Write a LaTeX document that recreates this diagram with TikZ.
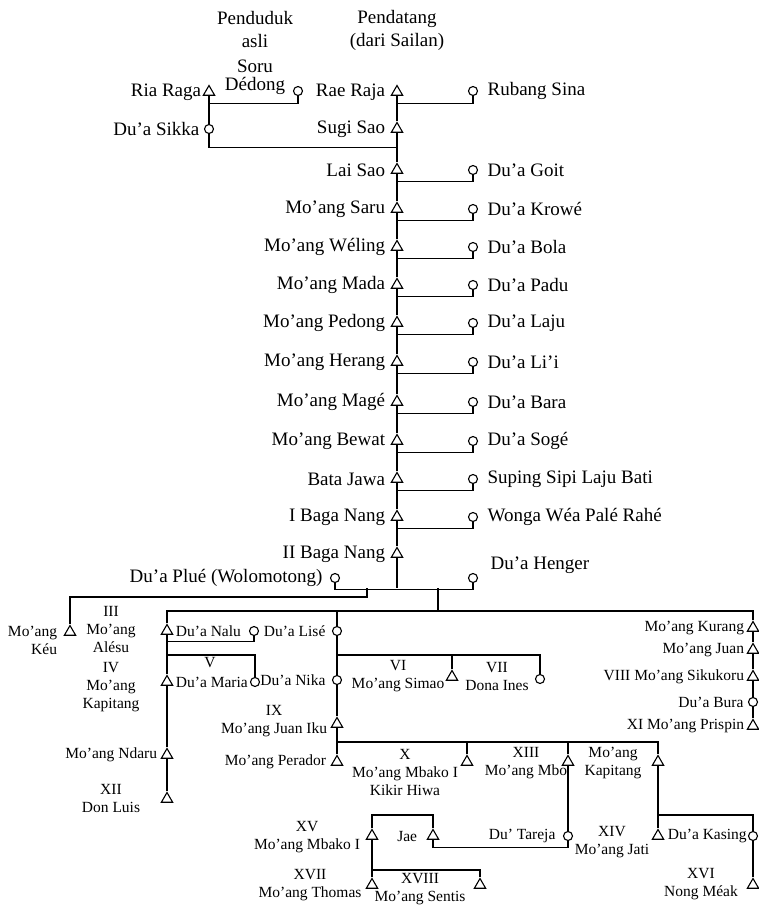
\documentclass[tikz,border=0pt]{standalone}
\usepackage{fontspec}
\setmainfont{Liberation Serif}
\usetikzlibrary{positioning, shapes.geometric}

\begin{document}
\begin{tikzpicture}[
    x=1pt, y=-1pt, line width=1.1pt,
    font=\fontsize{19}{23}\selectfont,
    male/.style={draw, regular polygon, regular polygon sides=3,
        minimum size=13pt, inner sep=0pt, fill=white},
    female/.style={draw, circle, minimum size=9pt, inner sep=0pt, fill=white},
    lbl/.style={inner sep=0pt, align=center},
    small/.style={font=\fontsize{15.5}{18}\selectfont},
]
\useasboundingbox (0,0) rectangle (759,910);

% kepala kolom
\node[lbl] (native) at (255,30) {Penduduk\\asli};
\node[lbl] (settler) at (397,30) {Pendatang\\(dari Sailan)};

% penduduk asli
\node[male] (riaraga) at (209,92) {};
\node[lbl, left=3pt of riaraga] (riaraga-l) {Ria Raga};
\node[female] (soru) at (298,91) {};
\node[lbl] (soru-l) at (255,77) {Soru\\[-5pt]Dédong};
\node[female] (sikka) at (209,129) {};
\node[lbl, left=4pt of sikka] (sikka-l) {Du'a Sikka};

% garis laki-laki pendatang
\node[male] (raeraja) at (397,92) {};
\node[lbl, left=7pt of raeraja] (raeraja-l) {Rae Raja};
\node[female] (rubang) at (473,91) {};
\node[lbl, right=9pt of rubang] (rubang-l) {Rubang Sina};
\node[male] (sugisao) at (397,129) {};
\node[lbl, left=7pt of sugisao] (sugisao-l) {Sugi Sao};
\node[male] (laisao) at (397,170) {};
\node[lbl, left=7pt of laisao] (laisao-l) {Lai Sao};
\node[female] (goit) at (473,170) {};
\node[lbl, right=9pt of goit] (goit-l) {Du'a Goit};
\node[male] (saru) at (397,209) {};
\node[lbl, left=7pt of saru] (saru-l) {Mo'ang Saru};
\node[female] (krowe) at (473,209) {};
\node[lbl, right=9pt of krowe] (krowe-l) {Du'a Krowé};
\node[male] (weling) at (397,247) {};
\node[lbl, left=7pt of weling] (weling-l) {Mo'ang Wéling};
\node[female] (bola) at (473,247) {};
\node[lbl, right=9pt of bola] (bola-l) {Du'a Bola};
\node[male] (mada) at (397,285) {};
\node[lbl, left=7pt of mada] (mada-l) {Mo'ang Mada};
\node[female] (padu) at (473,285) {};
\node[lbl, right=9pt of padu] (padu-l) {Du'a Padu};
\node[male] (pedong) at (397,323) {};
\node[lbl, left=7pt of pedong] (pedong-l) {Mo'ang Pedong};
\node[female] (laju) at (473,323) {};
\node[lbl, right=9pt of laju] (laju-l) {Du'a Laju};
\node[male] (herang) at (397,362) {};
\node[lbl, left=7pt of herang] (herang-l) {Mo'ang Herang};
\node[female] (lii) at (473,362) {};
\node[lbl, right=9pt of lii] (lii-l) {Du'a Li'i};
\node[male] (mage) at (397,402) {};
\node[lbl, left=7pt of mage] (mage-l) {Mo'ang Magé};
\node[female] (bara) at (473,402) {};
\node[lbl, right=9pt of bara] (bara-l) {Du'a Bara};
\node[male] (bewat) at (397,441) {};
\node[lbl, left=7pt of bewat] (bewat-l) {Mo'ang Bewat};
\node[female] (soge) at (473,441) {};
\node[lbl, right=9pt of soge] (soge-l) {Du'a Sogé};
\node[male] (batajawa) at (397,479) {};
\node[lbl, left=7pt of batajawa] (batajawa-l) {Bata Jawa};
\node[female] (suping) at (473,479) {};
\node[lbl, right=9pt of suping] (suping-l) {Suping Sipi Laju Bati};
\node[male] (baga1) at (397,517) {};
\node[lbl, left=7pt of baga1] (baga1-l) {I Baga Nang};
\node[female] (wonga) at (473,517) {};
\node[lbl, right=9pt of wonga] (wonga-l) {Wonga Wéa Palé Rahé};
\node[male] (baga2) at (397,554) {};
\node[lbl, left=7pt of baga2] (baga2-l) {II Baga Nang};
\node[female] (plue) at (335,578) {};
\node[lbl, left=7pt of plue] (plue-l) {Du'a Plué (Wolomotong)};
\node[female] (henger) at (473,578) {};
\node[lbl, right=12pt of henger, yshift=13pt] (henger-l) {Du'a Henger};

\draw (riaraga.south) -- ++(0,7.5) -| (soru.south);
\draw (riaraga) -- (sikka);
\draw (sikka.south) -- ++(0,13) -| (sugisao.south);
\draw (raeraja) -- (sugisao) -- (laisao) -- (saru) -- (weling) -- (mada)
    -- (pedong) -- (herang) -- (mage) -- (bewat) -- (batajawa) -- (baga1) -- (baga2);
\draw (raeraja.south) -- ++(0,7.5) -| (rubang.south);
\draw (laisao.south) -- ++(0,7.5) -| (goit.south);
\draw (saru.south) -- ++(0,7.5) -| (krowe.south);
\draw (weling.south) -- ++(0,7.5) -| (bola.south);
\draw (mada.south) -- ++(0,7.5) -| (padu.south);
\draw (pedong.south) -- ++(0,7.5) -| (laju.south);
\draw (herang.south) -- ++(0,7.5) -| (lii.south);
\draw (mage.south) -- ++(0,7.5) -| (bara.south);
\draw (bewat.south) -- ++(0,7.5) -| (soge.south);
\draw (batajawa.south) -- ++(0,7.5) -| (suping.south);
\draw (baga1.south) -- ++(0,7.5) -| (wonga.south);
\coordinate (wed) at (397,588);
\draw (baga2) -- (wed);
\draw (plue.south) -- ++(0,6) -| (henger.south);

% keturunan Du'a Plue
\node[male] (keu) at (70,632) {};
\node[lbl, small, align=right, left=8pt of keu, yshift=-8pt] (keu-l) {Mo'ang\\Kéu};
\coordinate (plue-d) at (367,588);
\draw (plue-d) -- ++(0,9) -| (keu);

% keturunan Du'a Henger
\node[male] (alesu) at (167,631) {};
\node[lbl, small] (alesu-l) at (111,629) {III\\Mo'ang\\Alésu};
\node[female] (nalu) at (254,631) {};
\node[lbl, small, right=4pt of alesu] (nalu-l) {Du'a Nalu};
\node[male] (kap4) at (167,682) {};
\node[lbl, small] (kap4-l) at (111,687) {IV\\Mo'ang\\Kapitang};
\node[female] (maria) at (255,682) {};
\node[lbl, small, right=4pt of kap4] (maria-l) {Du'a Maria};
\node[lbl, small] (maria-v) at (210,663) {V};
\node[male] (ndaru) at (167,755) {};
\node[lbl, small, left=5pt of ndaru] (ndaru-l) {Mo'ang Ndaru};
\node[male] (luis) at (167,799) {};
\node[lbl, small] (luis-l) at (111,798) {XII\\Don Luis};

\node[female] (lise) at (337,631) {};
\node[lbl, small, left=6pt of lise] (lise-l) {Du'a Lisé};
\node[female] (nika) at (337,680) {};
\node[lbl, small, left=6pt of nika] (nika-l) {Du'a Nika};
\node[male] (simao) at (452,677) {};
\node[lbl, small] (simao-l) at (398,676) {VI\\Mo'ang Simao};
\node[female] (ines) at (540,679) {};
\node[lbl, small] (ines-l) at (497,676) {VII\\Dona Ines};

\node[male] (kurang) at (753,628) {};
\node[lbl, small, left=4pt of kurang] (kurang-l) {Mo'ang Kurang};
\node[male] (juan) at (753,650) {};
\node[lbl, small, left=4pt of juan] (juan-l) {Mo'ang Juan};
\node[male] (sikukoru) at (753,677) {};
\node[lbl, small, left=4pt of sikukoru] (sikukoru-l) {VIII Mo'ang Sikukoru};
\node[female] (bura) at (753,702) {};
\node[lbl, small, left=4pt of bura] (bura-l) {Du'a Bura};
\node[male] (prispin) at (753,726) {};
\node[lbl, small, left=4pt of prispin] (prispin-l) {XI Mo'ang Prispin};

\coordinate (henger-d) at (438,588);
\draw (henger-d) -- ++(0,23) coordinate (kin);
\draw (alesu) |- (kin) -| (kurang);
\draw (lise) -- (lise |- kin);
\draw (alesu.south) -- ++(0,7) -| (nalu.south);
\draw (alesu) -- (kap4) -- (ndaru) -- (luis);
\draw (alesu |- 0,655) -| (maria);
\draw (lise) -- (nika);
\draw (lise |- 0,655) -| (ines);
\draw (simao) -- (simao |- 0,655);
\draw (kurang) -- (juan) -- (sikukoru) -- (bura) -- (prispin);

% keturunan IX
\node[male] (iku) at (337,724) {};
\node[lbl, small, left=5pt of iku, yshift=3pt] (iku-l) {IX\\Mo'ang Juan Iku};
\node[male] (perador) at (337,762) {};
\node[lbl, small, left=6pt of perador] (perador-l) {Mo'ang Perador};
\node[male] (mbako) at (467,762) {};
\node[lbl, small] (mbako-l) at (405,772) {X\\Mo'ang Mbako I\\Kikir Hiwa};
\node[male] (mbo) at (568,762) {};
\node[lbl, small] (mbo-l) at (526,763) {XIII\\Mo'ang Mbo};
\node[male] (kapitang) at (658,762) {};
\node[lbl, small] (kapitang-l) at (613,763) {Mo'ang\\Kapitang};

\draw (nika) -- (iku) -- (perador);
\draw (iku |- 0,742) -| (kapitang);
\draw (mbako) -- (mbako |- 0,742);
\draw (mbo) -- (mbo |- 0,742);

\node[female] (tareja) at (568,836) {};
\node[lbl, small, left=7pt of tareja] (tareja-l) {Du' Tareja};
\node[male] (jae) at (433,836) {};
\node[lbl, small, left=11pt of jae] (jae-l) {Jae};
\node[male] (xv) at (372,836) {};
\node[lbl, small] (xv-l) at (307,837) {XV\\Mo'ang Mbako I};
\node[male] (thomas) at (372,885) {};
\node[lbl, small] (thomas-l) at (310,885) {XVII\\Mo'ang Thomas};
\node[male] (sentis) at (480,885) {};
\node[lbl, small] (sentis-l) at (420,889) {XVIII\\Mo'ang Sentis};
\node[male] (jati) at (658,836) {};
\node[lbl, small] (jati-l) at (612,842) {XIV\\Mo'ang Jati};
\node[female] (kasing) at (753,836) {};
\node[lbl, small, right=5pt of jati] (kasing-l) {Du'a Kasing};
\node[male] (meak) at (753,885) {};
\node[lbl, small] (meak-l) at (701,884) {XVI\\Nong Méak};

\draw (mbo) -- (tareja);
\draw (tareja.south) -- ++(0,6) -| (jae.south);
\draw (xv) -- ++(0,-21) -| (jae);
\draw (xv) -- (thomas);
\draw (xv |- 0,870) -| (sentis);
\draw (kapitang) -- (jati);
\draw (kapitang |- 0,815) -| (kasing);
\draw (kasing) -- (meak);

\end{tikzpicture}
\end{document}
